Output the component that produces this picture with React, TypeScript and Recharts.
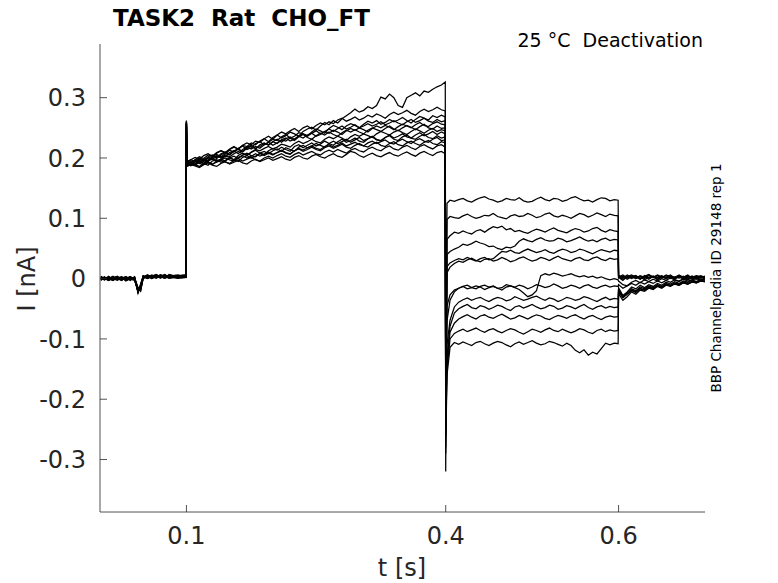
import React from "react";
import { LineChart, Line, XAxis, YAxis } from "recharts";

// sample times [s], rows of 10: baseline | step to 0.4 s | test pulse to 0.6 s | return
const times = [
    0.001, 0.005, 0.01, 0.015, 0.02, 0.025, 0.03, 0.035, 0.04, 0.044,
    0.047, 0.05, 0.055, 0.06, 0.065, 0.07, 0.075, 0.08, 0.09, 0.0995,
    0.1, 0.1005, 0.105, 0.11, 0.115, 0.12, 0.125, 0.13, 0.135, 0.14,
    0.145, 0.15, 0.155, 0.16, 0.165, 0.17, 0.175, 0.18, 0.185, 0.19,
    0.195, 0.2, 0.205, 0.21, 0.215, 0.22, 0.225, 0.23, 0.235, 0.24,
    0.245, 0.25, 0.255, 0.26, 0.265, 0.27, 0.275, 0.28, 0.285, 0.29,
    0.295, 0.3, 0.305, 0.31, 0.315, 0.32, 0.325, 0.33, 0.335, 0.34,
    0.345, 0.35, 0.355, 0.36, 0.365, 0.37, 0.375, 0.38, 0.385, 0.39,
    0.395, 0.3995,
    0.4, 0.4015, 0.405, 0.41, 0.415, 0.42, 0.425, 0.43, 0.435, 0.44,
    0.445, 0.45, 0.455, 0.46, 0.465, 0.47, 0.475, 0.48, 0.485, 0.49,
    0.495, 0.5, 0.505, 0.51, 0.515, 0.52, 0.525, 0.53, 0.535, 0.54,
    0.545, 0.55, 0.555, 0.56, 0.565, 0.57, 0.575, 0.58, 0.585, 0.59,
    0.595, 0.5995,
    0.6, 0.605, 0.61, 0.615, 0.62, 0.625, 0.63, 0.635, 0.64, 0.645,
    0.65, 0.655, 0.66, 0.665, 0.67, 0.675, 0.68, 0.685, 0.69, 0.695,
    0.7,
];

// current [nA] of each sweep, same layout as times
const sweep1 = [
    0.002, -0.002, 0.001, -0.003, 0.002, 0.0, -0.002, 0.003, -0.001, -0.017,
    -0.013, 0.003, 0.006, 0.002, 0.005, 0.001, 0.006, 0.003, 0.002, 0.004,
    0.258, 0.188, 0.195, 0.193, 0.199, 0.197, 0.194, 0.203, 0.206, 0.202,
    0.207, 0.213, 0.21, 0.216, 0.22, 0.214, 0.217, 0.224, 0.227, 0.222,
    0.226, 0.231, 0.229, 0.235, 0.239, 0.233, 0.236, 0.242, 0.24, 0.237,
    0.243, 0.248, 0.245, 0.241, 0.249, 0.254, 0.251, 0.247, 0.253, 0.257,
    0.254, 0.25, 0.256, 0.261, 0.258, 0.262, 0.256, 0.259, 0.264, 0.26,
    0.263, 0.267, 0.262, 0.258, 0.264, 0.269, 0.266, 0.263, 0.27, 0.267,
    0.271, 0.268,
    -0.2, 0.125, 0.13, 0.128, 0.131, 0.133, 0.129, 0.127, 0.131, 0.134,
    0.136, 0.132, 0.13, 0.127, 0.129, 0.133, 0.131, 0.13, 0.134, 0.129,
    0.127, 0.128, 0.132, 0.135, 0.131, 0.129, 0.133, 0.132, 0.128, 0.13,
    0.134, 0.136, 0.132, 0.129, 0.13, 0.127, 0.131, 0.134, 0.133, 0.129,
    0.131, 0.13,
    0.004, 0.001, 0.006, 0.002, 0.005, -0.001, 0.004, 0.007, 0.002, 0.005,
    0.001, 0.006, 0.003, 0.0, 0.005, 0.002, 0.006, 0.001, 0.004, 0.002,
    0.004,
];
const sweep2 = [
    -0.002, 0.001, -0.003, 0.002, -0.001, 0.003, -0.004, 0.0, 0.002, -0.022,
    -0.009, 0.004, 0.001, 0.005, 0.002, 0.006, 0.003, 0.005, 0.001, 0.002,
    0.262, 0.192, 0.188, 0.194, 0.196, 0.191, 0.197, 0.2, 0.195, 0.198,
    0.203, 0.201, 0.197, 0.204, 0.208, 0.205, 0.209, 0.213, 0.208, 0.206,
    0.212, 0.216, 0.213, 0.218, 0.214, 0.211, 0.219, 0.222, 0.217, 0.221,
    0.225, 0.22, 0.223, 0.228, 0.224, 0.221, 0.227, 0.231, 0.226, 0.229,
    0.233, 0.228, 0.226, 0.232, 0.235, 0.23, 0.228, 0.234, 0.237, 0.231,
    0.229, 0.235, 0.238, 0.233, 0.231, 0.236, 0.239, 0.234, 0.232, 0.237,
    0.233, 0.235,
    -0.18, 0.098, 0.103, 0.101, 0.1, 0.104, 0.107, 0.103, 0.1, 0.102,
    0.105, 0.104, 0.108, 0.103, 0.101, 0.099, 0.104, 0.106, 0.103, 0.104,
    0.108, 0.105, 0.101, 0.103, 0.107, 0.109, 0.104, 0.102, 0.105, 0.103,
    0.1, 0.104, 0.108, 0.106, 0.102, 0.105, 0.109, 0.106, 0.103, 0.107,
    0.105, 0.104,
    0.003, 0.006, 0.001, 0.004, 0.0, 0.005, 0.002, 0.006, 0.003, -0.001,
    0.004, 0.002, 0.006, 0.001, 0.005, 0.003, 0.0, 0.004, 0.002, 0.005,
    0.002,
];
const sweep3 = [
    0.001, -0.001, 0.003, -0.002, 0.0, 0.002, -0.003, 0.001, 0.002, -0.015,
    -0.021, 0.001, 0.005, 0.002, 0.006, 0.003, 0.001, 0.007, 0.003, 0.004,
    0.255, 0.194, 0.197, 0.201, 0.198, 0.204, 0.207, 0.203, 0.209, 0.212,
    0.208, 0.214, 0.218, 0.215, 0.221, 0.219, 0.225, 0.222, 0.228, 0.232,
    0.227, 0.234, 0.238, 0.233, 0.237, 0.243, 0.24, 0.236, 0.244, 0.248,
    0.251, 0.246, 0.253, 0.259, 0.255, 0.262, 0.258, 0.265, 0.27, 0.275,
    0.281, 0.276, 0.279, 0.285, 0.282, 0.287, 0.301, 0.298, 0.306, 0.3,
    0.287, 0.284, 0.3, 0.304, 0.308, 0.303, 0.311, 0.309, 0.314, 0.318,
    0.321, 0.326,
    -0.32, 0.065, 0.071, 0.077, 0.075, 0.079, 0.076, 0.074, 0.079, 0.081,
    0.077, 0.082, 0.086, 0.084, 0.087, 0.081, 0.083, 0.078, 0.08, 0.077,
    0.075, 0.079, 0.082, 0.08, 0.077, 0.081, 0.084, 0.08, 0.078, 0.076,
    0.08, 0.083, 0.081, 0.077, 0.079, 0.083, 0.085, 0.08, 0.077, 0.081,
    0.079, 0.078,
    0.002, -0.003, 0.004, 0.0, 0.003, -0.001, 0.005, 0.001, 0.003, -0.002,
    0.002, 0.005, 0.0, 0.003, 0.001, 0.004, -0.001, 0.003, 0.001, 0.004,
    0.001,
];
const sweep4 = [
    0.003, -0.002, 0.0, 0.004, -0.001, 0.002, -0.003, 0.001, 0.0, -0.019,
    -0.016, 0.002, 0.004, 0.0, 0.005, 0.002, 0.006, 0.001, 0.005, 0.006,
    0.26, 0.19, 0.193, 0.19, 0.196, 0.199, 0.195, 0.201, 0.204, 0.2,
    0.203, 0.209, 0.212, 0.207, 0.214, 0.218, 0.215, 0.219, 0.216, 0.222,
    0.226, 0.221, 0.225, 0.23, 0.228, 0.233, 0.229, 0.235, 0.239, 0.234,
    0.231, 0.237, 0.241, 0.238, 0.243, 0.239, 0.236, 0.242, 0.246, 0.243,
    0.247, 0.243, 0.24, 0.246, 0.25, 0.247, 0.244, 0.249, 0.253, 0.248,
    0.245, 0.25, 0.254, 0.251, 0.247, 0.252, 0.256, 0.25, 0.248, 0.253,
    0.249, 0.25,
    -0.22, 0.04, 0.045, 0.049, 0.052, 0.057, 0.055, 0.058, 0.062, 0.059,
    0.057, 0.053, 0.054, 0.05, 0.048, 0.052, 0.051, 0.054, 0.062, 0.066,
    0.063, 0.061, 0.065, 0.068, 0.064, 0.062, 0.063, 0.067, 0.065, 0.061,
    0.063, 0.066, 0.069, 0.065, 0.062, 0.064, 0.061, 0.065, 0.067, 0.063,
    0.065, 0.064,
    0.005, 0.001, 0.003, 0.006, 0.002, 0.004, 0.0, 0.005, 0.002, 0.006,
    0.003, 0.0, 0.004, 0.002, 0.006, 0.001, 0.004, 0.002, 0.005, 0.003,
    0.003,
];
const sweep5 = [
    -0.001, 0.002, -0.002, 0.001, 0.003, -0.001, 0.002, -0.003, 0.003, -0.024,
    -0.011, 0.005, 0.001, 0.004, 0.007, 0.003, 0.001, 0.005, 0.002, 0.005,
    0.257, 0.191, 0.187, 0.19, 0.194, 0.191, 0.188, 0.195, 0.197, 0.193,
    0.196, 0.2, 0.197, 0.194, 0.201, 0.204, 0.2, 0.203, 0.207, 0.204,
    0.208, 0.205, 0.209, 0.212, 0.208, 0.206, 0.212, 0.215, 0.211, 0.214,
    0.218, 0.214, 0.212, 0.217, 0.22, 0.216, 0.219, 0.223, 0.218, 0.216,
    0.221, 0.224, 0.22, 0.218, 0.223, 0.226, 0.221, 0.219, 0.224, 0.227,
    0.222, 0.22, 0.225, 0.228, 0.224, 0.221, 0.226, 0.229, 0.224, 0.222,
    0.227, 0.225,
    -0.19, 0.02, 0.026, 0.03, 0.033, 0.031, 0.035, 0.032, 0.029, 0.033,
    0.035, 0.031, 0.033, 0.039, 0.045, 0.044, 0.047, 0.043, 0.042, 0.046,
    0.049, 0.046, 0.043, 0.045, 0.048, 0.044, 0.042, 0.046, 0.049, 0.047,
    0.043, 0.045, 0.049, 0.047, 0.044, 0.041, 0.045, 0.048, 0.046, 0.044,
    0.047, 0.046,
    0.001, 0.004, -0.001, 0.003, 0.005, 0.0, 0.003, -0.001, 0.004, 0.002,
    0.005, 0.001, 0.003, -0.001, 0.004, 0.002, 0.005, 0.0, 0.003, 0.002,
    0.002,
];
const sweep6 = [
    0.002, 0.0, -0.003, 0.001, 0.003, -0.002, 0.001, 0.003, -0.002, -0.02,
    -0.018, 0.0, 0.003, 0.006, 0.002, 0.004, 0.001, 0.006, 0.003, 0.003,
    0.259, 0.195, 0.191, 0.197, 0.202, 0.199, 0.205, 0.203, 0.208, 0.212,
    0.209, 0.215, 0.219, 0.214, 0.221, 0.225, 0.222, 0.228, 0.226, 0.232,
    0.236, 0.231, 0.238, 0.243, 0.24, 0.245, 0.249, 0.244, 0.25, 0.253,
    0.248, 0.254, 0.258, 0.255, 0.26, 0.257, 0.263, 0.266, 0.261, 0.264,
    0.268, 0.263, 0.266, 0.271, 0.268, 0.273, 0.27, 0.266, 0.272, 0.276,
    0.272, 0.275, 0.279, 0.274, 0.271, 0.277, 0.281, 0.277, 0.28, 0.284,
    0.28, 0.278,
    -0.29, 0.01, 0.019, 0.025, 0.029, 0.027, 0.031, 0.034, 0.03, 0.028,
    0.032, 0.033, 0.029, 0.031, 0.035, 0.032, 0.028, 0.03, 0.034, 0.036,
    0.032, 0.029, 0.031, 0.035, 0.033, 0.03, 0.034, 0.037, 0.033, 0.031,
    0.029, 0.033, 0.035, 0.031, 0.03, 0.034, 0.036, 0.032, 0.03, 0.034,
    0.032, 0.033,
    0.003, -0.001, 0.002, 0.004, 0.0, 0.003, -0.002, 0.002, 0.004, 0.001,
    0.003, 0.0, 0.004, 0.001, 0.003, -0.001, 0.002, 0.004, 0.001, 0.003,
    0.002,
];
const sweep7 = [
    -0.003, 0.002, 0.0, -0.002, 0.001, 0.003, -0.001, 0.002, 0.0, -0.016,
    -0.014, 0.004, 0.0, 0.003, 0.006, 0.002, 0.005, 0.001, 0.004, 0.003,
    0.256, 0.194, 0.197, 0.195, 0.191, 0.197, 0.2, 0.198, 0.203, 0.201,
    0.205, 0.202, 0.207, 0.211, 0.207, 0.204, 0.21, 0.214, 0.212, 0.216,
    0.219, 0.215, 0.218, 0.223, 0.221, 0.218, 0.224, 0.228, 0.224, 0.227,
    0.231, 0.227, 0.225, 0.231, 0.235, 0.232, 0.236, 0.233, 0.229, 0.235,
    0.239, 0.236, 0.24, 0.237, 0.234, 0.24, 0.244, 0.241, 0.238, 0.243,
    0.246, 0.242, 0.239, 0.244, 0.248, 0.245, 0.241, 0.246, 0.249, 0.244,
    0.247, 0.245,
    -0.24, -0.045, -0.027, -0.019, -0.016, -0.013, -0.017, -0.015, -0.012, -0.014,
    -0.018, -0.015, -0.013, -0.016, -0.019, -0.014, -0.012, -0.015, -0.018, -0.024,
    -0.03, -0.027, -0.02, 0.005, 0.008, 0.006, 0.009, 0.007, 0.004, 0.006,
    0.008, 0.005, 0.003, 0.005, 0.002, 0.004, 0.001, 0.003, 0.0, -0.002,
    0.0, -0.002,
    -0.004, -0.01, -0.012, -0.006, -0.003, -0.007, -0.002, -0.005, -0.001, -0.004,
    0.0, -0.003, 0.001, -0.002, -0.004, 0.0, -0.002, 0.001, -0.001, 0.001,
    0.0,
];
const sweep8 = [
    0.001, -0.002, 0.002, 0.0, -0.003, 0.001, 0.003, -0.001, -0.003, -0.021,
    -0.015, 0.002, 0.004, 0.0, 0.003, 0.006, 0.002, 0.004, 0.006, 0.002,
    0.261, 0.188, 0.191, 0.189, 0.186, 0.191, 0.194, 0.19, 0.193, 0.196,
    0.193, 0.191, 0.196, 0.199, 0.195, 0.198, 0.201, 0.197, 0.195, 0.2,
    0.203, 0.2, 0.204, 0.207, 0.203, 0.201, 0.206, 0.209, 0.205, 0.208,
    0.211, 0.207, 0.205, 0.21, 0.213, 0.21, 0.214, 0.211, 0.208, 0.213,
    0.216, 0.212, 0.21, 0.215, 0.218, 0.214, 0.212, 0.217, 0.22, 0.215,
    0.213, 0.218, 0.221, 0.217, 0.214, 0.219, 0.222, 0.218, 0.215, 0.22,
    0.222, 0.218,
    -0.17, -0.07, -0.036, -0.022, -0.016, -0.013, -0.011, -0.015, -0.017, -0.013,
    -0.011, -0.014, -0.012, -0.016, -0.015, -0.01, -0.012, -0.014, -0.011, -0.013,
    -0.017, -0.014, -0.01, -0.012, -0.015, -0.013, -0.009, -0.012, -0.016, -0.014,
    -0.011, -0.013, -0.016, -0.012, -0.01, -0.014, -0.016, -0.013, -0.011, -0.014,
    -0.012, -0.013,
    -0.01, -0.016, -0.012, -0.008, -0.011, -0.006, -0.009, -0.005, -0.008, -0.004,
    -0.007, -0.003, -0.006, -0.002, -0.005, -0.001, -0.004, -0.002, 0.0, -0.003,
    -0.001,
];
const sweep9 = [
    0.004, 0.0, -0.002, 0.002, 0.0, -0.003, 0.002, -0.001, 0.001, -0.018,
    -0.02, 0.003, 0.002, 0.005, 0.001, 0.004, 0.007, 0.002, 0.004, 0.006,
    0.254, 0.196, 0.192, 0.197, 0.2, 0.196, 0.202, 0.205, 0.201, 0.207,
    0.21, 0.206, 0.212, 0.215, 0.211, 0.218, 0.221, 0.216, 0.219, 0.224,
    0.222, 0.227, 0.224, 0.23, 0.233, 0.228, 0.231, 0.236, 0.233, 0.238,
    0.241, 0.236, 0.239, 0.244, 0.241, 0.246, 0.243, 0.239, 0.245, 0.249,
    0.246, 0.25, 0.247, 0.243, 0.249, 0.253, 0.25, 0.254, 0.251, 0.247,
    0.252, 0.256, 0.253, 0.25, 0.255, 0.259, 0.254, 0.252, 0.257, 0.26,
    0.256, 0.255,
    -0.21, -0.11, -0.069, -0.047, -0.039, -0.035, -0.032, -0.036, -0.033, -0.031,
    -0.035, -0.038, -0.034, -0.031, -0.033, -0.037, -0.035, -0.03, -0.033, -0.036,
    -0.034, -0.031, -0.029, -0.033, -0.036, -0.032, -0.034, -0.038, -0.035, -0.031,
    -0.033, -0.036, -0.034, -0.03, -0.032, -0.035, -0.038, -0.034, -0.031, -0.035,
    -0.033, -0.034,
    -0.015, -0.028, -0.022, -0.014, -0.017, -0.011, -0.015, -0.01, -0.013, -0.008,
    -0.011, -0.006, -0.009, -0.005, -0.008, -0.004, -0.006, -0.002, -0.005, -0.001,
    -0.003,
];
const sweep10 = [
    -0.001, 0.003, -0.001, -0.003, 0.002, 0.0, 0.003, -0.002, 0.001, -0.023,
    -0.012, 0.001, 0.005, 0.002, 0.004, 0.001, 0.005, 0.003, 0.001, 0.005,
    0.258, 0.189, 0.192, 0.195, 0.191, 0.189, 0.195, 0.198, 0.194, 0.197,
    0.2, 0.197, 0.195, 0.201, 0.204, 0.2, 0.203, 0.207, 0.203, 0.206,
    0.21, 0.206, 0.209, 0.213, 0.209, 0.207, 0.212, 0.216, 0.213, 0.217,
    0.22, 0.216, 0.214, 0.219, 0.222, 0.218, 0.221, 0.225, 0.22, 0.223,
    0.226, 0.222, 0.22, 0.225, 0.228, 0.224, 0.227, 0.23, 0.225, 0.223,
    0.228, 0.231, 0.227, 0.224, 0.229, 0.232, 0.228, 0.226, 0.231, 0.234,
    0.229, 0.23,
    -0.23, -0.13, -0.079, -0.057, -0.05, -0.046, -0.043, -0.048, -0.05, -0.045,
    -0.047, -0.051, -0.048, -0.044, -0.046, -0.05, -0.053, -0.047, -0.045, -0.049,
    -0.046, -0.043, -0.047, -0.05, -0.048, -0.044, -0.046, -0.051, -0.049, -0.045,
    -0.047, -0.05, -0.046, -0.043, -0.048, -0.051, -0.047, -0.045, -0.049, -0.046,
    -0.048, -0.047,
    -0.018, -0.03, -0.024, -0.017, -0.02, -0.014, -0.017, -0.012, -0.015, -0.01,
    -0.013, -0.008, -0.011, -0.007, -0.009, -0.005, -0.008, -0.004, -0.006, -0.003,
    -0.004,
];
const sweep11 = [
    0.002, -0.001, 0.004, -0.002, 0.001, -0.003, 0.002, 0.0, -0.001, -0.019,
    -0.017, 0.004, 0.001, 0.004, 0.002, 0.005, 0.001, 0.003, 0.005, 0.003,
    0.26, 0.186, 0.189, 0.187, 0.184, 0.189, 0.192, 0.188, 0.186, 0.191,
    0.194, 0.19, 0.193, 0.196, 0.192, 0.19, 0.195, 0.198, 0.194, 0.197,
    0.2, 0.196, 0.199, 0.202, 0.198, 0.196, 0.201, 0.204, 0.2, 0.198,
    0.203, 0.206, 0.202, 0.2, 0.204, 0.207, 0.203, 0.201, 0.206, 0.211,
    0.209, 0.204, 0.201, 0.205, 0.208, 0.204, 0.202, 0.206, 0.209, 0.205,
    0.203, 0.207, 0.21, 0.206, 0.203, 0.208, 0.211, 0.207, 0.204, 0.209,
    0.211, 0.207,
    -0.25, -0.14, -0.089, -0.074, -0.067, -0.063, -0.06, -0.064, -0.067, -0.062,
    -0.06, -0.064, -0.066, -0.062, -0.059, -0.063, -0.067, -0.065, -0.061, -0.064,
    -0.067, -0.063, -0.06, -0.062, -0.066, -0.068, -0.064, -0.061, -0.063, -0.066,
    -0.062, -0.06, -0.064, -0.067, -0.063, -0.061, -0.065, -0.068, -0.064, -0.062,
    -0.064, -0.063,
    -0.02, -0.03, -0.025, -0.019, -0.022, -0.016, -0.019, -0.014, -0.016, -0.011,
    -0.014, -0.009, -0.012, -0.008, -0.01, -0.006, -0.009, -0.005, -0.007, -0.004,
    -0.005,
];
const sweep12 = [
    -0.002, 0.002, 0.0, 0.003, -0.002, 0.001, -0.001, 0.003, -0.002, -0.02,
    -0.013, 0.002, 0.006, 0.003, 0.001, 0.004, 0.002, 0.005, 0.001, 0.002,
    0.257, 0.193, 0.189, 0.195, 0.198, 0.194, 0.2, 0.203, 0.199, 0.205,
    0.209, 0.205, 0.211, 0.214, 0.21, 0.216, 0.22, 0.215, 0.222, 0.225,
    0.221, 0.227, 0.231, 0.226, 0.232, 0.235, 0.231, 0.237, 0.24, 0.236,
    0.241, 0.245, 0.24, 0.244, 0.248, 0.244, 0.249, 0.253, 0.248, 0.251,
    0.255, 0.25, 0.253, 0.257, 0.253, 0.256, 0.26, 0.255, 0.258, 0.262,
    0.258, 0.255, 0.26, 0.264, 0.259, 0.262, 0.266, 0.261, 0.259, 0.264,
    0.26, 0.262,
    -0.26, -0.15, -0.1, -0.091, -0.087, -0.084, -0.088, -0.085, -0.082, -0.086,
    -0.089, -0.085, -0.083, -0.087, -0.09, -0.086, -0.083, -0.085, -0.089, -0.092,
    -0.088, -0.084, -0.086, -0.089, -0.085, -0.082, -0.086, -0.088, -0.084, -0.087,
    -0.09, -0.087, -0.083, -0.085, -0.089, -0.091, -0.086, -0.084, -0.088, -0.085,
    -0.087, -0.086,
    -0.022, -0.032, -0.026, -0.02, -0.023, -0.017, -0.019, -0.014, -0.017, -0.012,
    -0.015, -0.01, -0.012, -0.008, -0.011, -0.007, -0.009, -0.005, -0.007, -0.004,
    -0.005,
];
const sweep13 = [
    0.003, 0.0, -0.002, 0.001, 0.004, -0.001, 0.002, -0.002, 0.003, -0.022,
    -0.01, 0.003, 0.001, 0.005, 0.002, 0.006, 0.003, 0.001, 0.002, 0.005,
    0.259, 0.187, 0.191, 0.188, 0.193, 0.196, 0.192, 0.189, 0.195, 0.198,
    0.195, 0.2, 0.203, 0.199, 0.205, 0.208, 0.204, 0.202, 0.208, 0.211,
    0.207, 0.212, 0.215, 0.211, 0.217, 0.214, 0.211, 0.218, 0.221, 0.217,
    0.22, 0.224, 0.221, 0.218, 0.224, 0.228, 0.224, 0.227, 0.231, 0.226,
    0.23, 0.234, 0.229, 0.232, 0.236, 0.231, 0.229, 0.234, 0.238, 0.233,
    0.236, 0.24, 0.235, 0.233, 0.238, 0.242, 0.237, 0.24, 0.244, 0.239,
    0.243, 0.24,
    -0.28, -0.16, -0.114, -0.106, -0.109, -0.105, -0.108, -0.111, -0.106, -0.104,
    -0.108, -0.111, -0.107, -0.104, -0.106, -0.11, -0.113, -0.108, -0.105, -0.109,
    -0.106, -0.103, -0.107, -0.11, -0.108, -0.104, -0.106, -0.109, -0.112, -0.107,
    -0.111, -0.119, -0.123, -0.118, -0.127, -0.122, -0.125, -0.116, -0.107, -0.11,
    -0.107, -0.108,
    -0.025, -0.036, -0.03, -0.022, -0.026, -0.019, -0.021, -0.016, -0.018, -0.013,
    -0.016, -0.011, -0.013, -0.009, -0.011, -0.007, -0.009, -0.006, -0.007, -0.004,
    -0.005,
];

const sweeps = [sweep1, sweep2, sweep3, sweep4, sweep5, sweep6, sweep7, sweep8, sweep9, sweep10, sweep11, sweep12, sweep13];

const xTicks = [0.1, 0.4, 0.6];
const yTicks = [-0.3, -0.2, -0.1, 0, 0.1, 0.2, 0.3];

const FONT = "DejaVu Sans";
const AXIS_COLOR = "#262626";

const chartData = times.map((t, i) => {
    const row: { [key: string]: number } = { t };
    sweeps.forEach((s, k) => {
        row[`s${k}`] = s[i];
    });
    return row;
});

// MATLAB-like ticks: short inward tick line + label
function XTick({ x, y, payload }: any) {
    return (
        <g>
            <line x1={x} y1={y} x2={x} y2={y - 7} stroke={AXIS_COLOR} strokeWidth={0.8} />
            <text x={x} y={y + 32} textAnchor="middle" fontFamily={FONT} fontSize={24} fill={AXIS_COLOR}>
                {String(payload.value)}
            </text>
        </g>
    );
}

function YTick({ x, y, payload }: any) {
    return (
        <g>
            <line x1={x} y1={y} x2={x + 7} y2={y} stroke={AXIS_COLOR} strokeWidth={0.8} />
            <text x={x - 14} y={y} dy="0.36em" textAnchor="end" fontFamily={FONT} fontSize={24} fill={AXIS_COLOR}>
                {String(payload.value)}
            </text>
        </g>
    );
}

export default function App() {
    return (
        <div style={{ position: "absolute", left: 0, top: 0, width: 778, height: 583, background: "#fff" }}>
            <LineChart width={778} height={583} data={chartData} margin={{ top: 44, right: 73, bottom: 31, left: 40 }}>
                <XAxis
                    dataKey="t"
                    type="number"
                    domain={[0, 0.7]}
                    ticks={xTicks}
                    interval={0}
                    height={40}
                    tickSize={0}
                    tickMargin={0}
                    tickLine={false}
                    axisLine={{ stroke: AXIS_COLOR, strokeWidth: 0.8 }}
                    tick={(props: any) => <XTick {...props} />}
                    allowDataOverflow
                />
                <YAxis
                    type="number"
                    domain={[-0.387, 0.389]}
                    ticks={yTicks}
                    interval={0}
                    width={60}
                    tickSize={0}
                    tickMargin={0}
                    tickLine={false}
                    axisLine={{ stroke: AXIS_COLOR, strokeWidth: 0.8 }}
                    tick={(props: any) => <YTick {...props} />}
                    allowDataOverflow
                />
                {sweeps.map((_, k) => (
                    <Line
                        key={k}
                        type="linear"
                        dataKey={`s${k}`}
                        stroke="#000"
                        strokeWidth={1.25}
                        dot={false}
                        activeDot={false}
                        isAnimationActive={false}
                    />
                ))}
            </LineChart>
            <svg width={778} height={583} style={{ position: "absolute", left: 0, top: 0, pointerEvents: "none" }}>
                <text x={113} y={26} fontFamily={FONT} fontWeight="bold" fontSize={23} fill="#000" style={{ whiteSpace: "pre" }}>
                    {"TASK2  Rat  CHO_FT"}
                </text>
                <text x={703} y={47} textAnchor="end" fontFamily={FONT} fontSize={19} fill="#000" style={{ whiteSpace: "pre" }}>
                    {"25 °C  Deactivation"}
                </text>
                <text transform="translate(721, 278) rotate(-90)" textAnchor="middle" fontFamily={FONT} fontSize={13.5} fill="#000">
                    BBP Channelpedia ID 29148 rep 1
                </text>
                <text transform="translate(35, 279) rotate(-90)" textAnchor="middle" fontFamily={FONT} fontSize={24} fill={AXIS_COLOR}>
                    I [nA]
                </text>
                <text x={402} y={576} textAnchor="middle" fontFamily={FONT} fontSize={24} fill={AXIS_COLOR}>
                    t [s]
                </text>
            </svg>
        </div>
    );
}
